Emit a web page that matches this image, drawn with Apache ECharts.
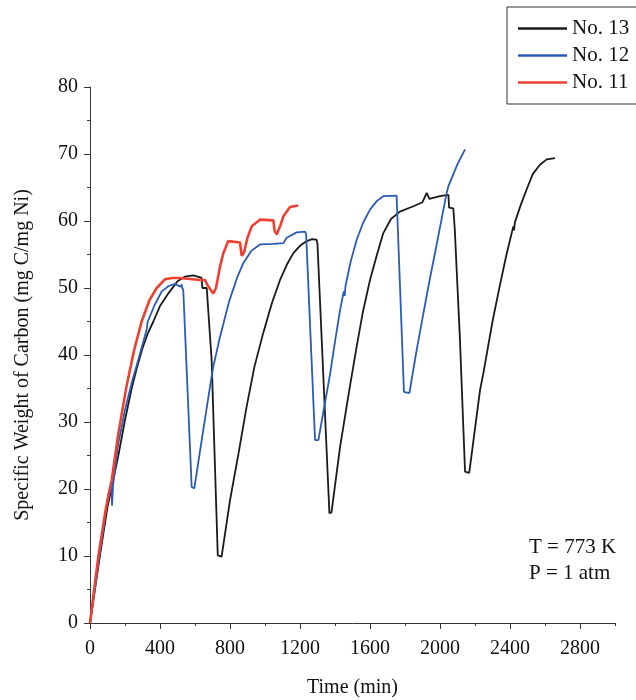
<!DOCTYPE html>
<html>
<head>
<meta charset="utf-8">
<script src="https://cdn.jsdelivr.net/npm/echarts@6/dist/echarts.min.js"></script>
<style>html,body{margin:0;padding:0;background:#fff;}#c{width:636px;height:700px;}</style>
</head>
<body>
<div id="c"></div>
<script>
var seriesNames = ['No. 13', 'No. 12', 'No. 11'];
var xMajorTicks = [0, 400, 800, 1200, 1600, 2000, 2400, 2800];
var xMinorTicks = [200, 600, 1000, 1400, 1800, 2200, 2600, 3000];
var no13 = [[0,0],[30,5.3],[57,10.1],[100,17.3],[130,21],[162,25],[200,30.3],[238,35],[270,38.3],[300,41],[330,43.2],[362,45],[400,47.3],[448,49.2],[500,51],[543,51.7],[590,51.9],[638,51.5],[642,50],[667,50],[695,39.3],[730,10.1],[752,9.9],[800,18.3],[850,25.5],[895,32.3],[940,38.3],[990,43.3],[1040,47.8],[1086,51.2],[1125,53.5],[1162,55.2],[1200,56.3],[1238,57],[1270,57.3],[1295,57.2],[1300,56.5],[1328,40],[1368,16.4],[1380,16.5],[1429,26.3],[1480,34.5],[1524,41.3],[1560,46.5],[1600,51.2],[1640,55],[1676,58.2],[1720,60.3],[1771,61.4],[1848,62.2],[1900,62.8],[1924,64.2],[1930,64.3],[1939,63.3],[2000,63.7],[2048,63.9],[2052,62],[2076,61.9],[2084,59],[2114,42.3],[2143,22.6],[2167,22.4],[2200,29],[2229,34.8],[2248,37.3],[2300,45],[2343,50.5],[2380,55],[2419,59.2],[2423,58.6],[2428,59.8],[2460,62.3],[2495,64.7],[2530,67],[2571,68.4],[2610,69.2],[2657,69.4]];
var no12 = [[0,0],[50,9.2],[105,19.3],[122,20.8],[126,17.5],[132,20.6],[160,26.5],[200,31.8],[240,36],[276,39.3],[324,43.8],[330,45],[370,47.5],[410,49.5],[450,50.3],[486,50.6],[515,50.2],[524,50.5],[527,50],[533,49.7],[581,20.3],[596,20.1],[640,27.6],[695,36.8],[705,38.3],[740,42.4],[795,48],[840,51.5],[876,53.7],[920,55.5],[971,56.5],[1050,56.6],[1105,56.7],[1124,57.5],[1181,58.3],[1229,58.4],[1235,58],[1286,27.3],[1305,27.3],[1340,32.5],[1371,37],[1400,42],[1429,46.7],[1450,49.5],[1455,48.8],[1460,50.3],[1490,54],[1524,57.2],[1560,59.7],[1600,61.7],[1640,63],[1676,63.7],[1752,63.8],[1794,34.5],[1825,34.3],[1865,40.5],[1905,46.2],[1943,51.5],[1981,56.5],[2038,64.2],[2048,65.2],[2100,68.5],[2143,70.7]];
var no11 = [[0,0],[48,10],[90,17],[124,21.3],[162,28.3],[210,35.5],[250,40.5],[295,45],[340,48.2],[381,50],[428,51.3],[470,51.5],[514,51.5],[629,51.2],[657,51.2],[670,50.5],[695,49.5],[705,49.2],[720,50],[743,53.2],[762,55.2],[790,57],[857,56.8],[867,54.8],[880,55.3],[900,57.5],[924,59.2],[971,60.2],[1048,60.1],[1055,58.5],[1067,58],[1086,59.2],[1105,60.7],[1143,62.1],[1190,62.3]];
var annotations = ['T = 773 K', 'P = 1 atm'];

var FONT = 'Liberation Serif';
var chart = echarts.init(document.getElementById('c'), null, {renderer: 'canvas'});
var axisColor = '#333';
chart.setOption({
  animation: false,
  backgroundColor: '#fff',
  grid: {left: 90, right: 21, top: 87, bottom: 77, containLabel: false, outerBoundsMode: 'none'},
  legend: {
    data: seriesNames,
    orient: 'vertical',
    left: 507, top: 7,
    padding: [11, 40, 11, 11],
    itemGap: 6,
    itemWidth: 49,
    itemHeight: 2.5,
    icon: 'rect',
    borderColor: '#333', borderWidth: 1,
    textStyle: {fontFamily: FONT, fontSize: 21, color: '#111', height: 21, lineHeight: 21}
  },
  xAxis: [{
    type: 'value', min: 0, max: 3000,
    name: 'Time (min)', nameLocation: 'middle', nameGap: 55,
    nameTextStyle: {fontFamily: FONT, fontSize: 20, color: '#111'},
    axisLine: {lineStyle: {color: axisColor, width: 1}},
    axisTick: {length: 6, customValues: xMajorTicks, lineStyle: {color: axisColor}},
    axisLabel: {customValues: xMajorTicks, margin: 16, fontFamily: FONT, fontSize: 20, color: '#111', formatter: function (v) { return String(v); }},
    splitLine: {show: false}
  }, {
    type: 'value', min: 0, max: 3000, position: 'bottom',
    axisLine: {show: false},
    axisTick: {length: 3, customValues: xMinorTicks, lineStyle: {color: axisColor}},
    axisLabel: {show: false},
    splitLine: {show: false}
  }],
  yAxis: {
    type: 'value', min: 0, max: 80, interval: 10,
    name: 'Specific Weight of Carbon (mg C/mg Ni)', nameLocation: 'middle', nameGap: 57,
    nameTextStyle: {fontFamily: FONT, fontSize: 20, color: '#111'},
    axisLine: {show: true, lineStyle: {color: axisColor, width: 1}},
    axisTick: {show: true, length: 6, lineStyle: {color: axisColor}},
    minorTick: {show: true, splitNumber: 2, length: 3, lineStyle: {color: axisColor}},
    axisLabel: {margin: 12, fontFamily: FONT, fontSize: 20, color: '#111'},
    splitLine: {show: false}
  },
  graphic: [
    {type: 'text', left: 529, top: 537, style: {text: annotations[0], font: '21px "Liberation Serif"', fill: '#111'}},
    {type: 'text', left: 529, top: 563, style: {text: annotations[1], font: '21px "Liberation Serif"', fill: '#111'}}
  ],
  series: [
    {name: seriesNames[0], type: 'line', data: no13, symbol: 'none', lineStyle: {color: '#1a1a1a', width: 1.8}, itemStyle: {color: '#1a1a1a'}},
    {name: seriesNames[1], type: 'line', data: no12, symbol: 'none', lineStyle: {color: '#2a5cb5', width: 1.8}, itemStyle: {color: '#2a5cb5'}},
    {name: seriesNames[2], type: 'line', data: no11, symbol: 'none', lineStyle: {color: '#ee4030', width: 2.6}, itemStyle: {color: '#ee4030'}}
  ]
});
</script>
</body>
</html>
